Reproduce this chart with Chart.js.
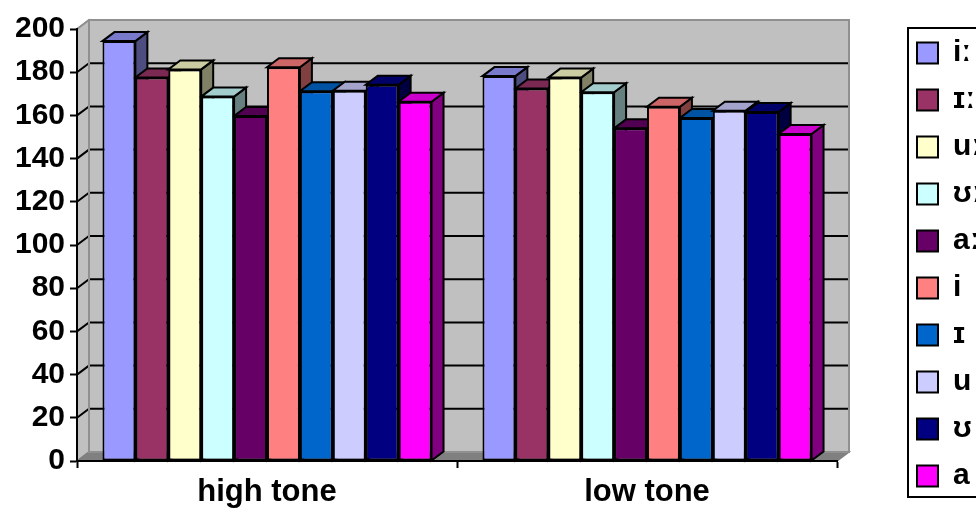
<!DOCTYPE html>
<html>
<head>
<meta charset="utf-8">
<script src="https://cdn.jsdelivr.net/npm/chart.js@4"></script>
<style>
html, body { margin: 0; padding: 0; background: #fff; overflow: hidden; }
#wrap { width: 980px; height: 510px; }
</style>
</head>
<body>
<div id="wrap"><canvas id="tones" width="980" height="510"></canvas></div>
<script>
const tones = ['high tone', 'low tone'];
const vowels = ['iː', 'ɪː', 'uː', 'ʊː', 'aː', 'i', 'ɪ', 'u', 'ʊ', 'a'];
const highTone = [194.4, 177.6, 181.3, 168.7, 159.7, 182.3, 171.2, 171.4, 174.2, 166.3];
const lowTone = [178.2, 172.5, 177.5, 170.7, 154.0, 164.0, 158.8, 162.2, 161.6, 151.4];
const yMin = 0, yMax = 200, yStep = 20;
const vowelColors = ['#9999FF', '#993366', '#FFFFCC', '#CCFFFF', '#660066',
	'#FF8080', '#0066CC', '#CCCCFF', '#000080', '#FF00FF'];

const FONT = 'Arial, "Liberation Sans", "DejaVu Sans", sans-serif';
// depth offset of the fake 3d box
const DX = 12, DY = -9;

function shade(hex, f) {
	const n = parseInt(hex.slice(1), 16);
	const r = Math.round(((n >> 16) & 255) * f);
	const g = Math.round(((n >> 8) & 255) * f);
	const b = Math.round((n & 255) * f);
	return 'rgb(' + r + ',' + g + ',' + b + ')';
}

function poly(ctx, pts, fill, stroke, lw) {
	ctx.beginPath();
	ctx.moveTo(pts[0][0], pts[0][1]);
	for (let i = 1; i < pts.length; i++) ctx.lineTo(pts[i][0], pts[i][1]);
	ctx.closePath();
	if (fill) { ctx.fillStyle = fill; ctx.fill(); }
	if (stroke) { ctx.strokeStyle = stroke; ctx.lineWidth = lw || 2; ctx.stroke(); }
}

// walls, floor, gridlines, and the top / side faces of every bar
const box3d = {
	id: 'box3d',
	beforeDraw(chart) {
		const ctx = chart.ctx;
		const a = chart.chartArea;
		const y = chart.scales.y;
		ctx.save();
		ctx.lineJoin = 'miter';

		poly(ctx, [[a.left + DX, a.top + DY], [a.right + DX, a.top + DY],
			[a.right + DX, a.bottom + DY], [a.left + DX, a.bottom + DY]], '#c0c0c0');
		poly(ctx, [[a.left, a.top], [a.left + DX, a.top + DY],
			[a.left + DX, a.bottom + DY], [a.left, a.bottom]], '#c0c0c0', '#808080', 1.5);
		poly(ctx, [[a.left, a.bottom], [a.left + DX, a.bottom + DY],
			[a.right + DX, a.bottom + DY], [a.right, a.bottom]], '#808080', '#808080', 1.5);

		y.ticks.forEach(t => {
			if (t.value === yMin) return;
			const py = y.getPixelForValue(t.value);
			ctx.beginPath();
			ctx.moveTo(a.left, py);
			ctx.lineTo(a.left + DX, py + DY);
			ctx.lineTo(a.right + DX, py + DY);
			ctx.strokeStyle = t.value === yMax ? '#909090' : '#000';
			ctx.lineWidth = 2;
			ctx.stroke();
		});
		ctx.strokeStyle = '#909090';
		ctx.lineWidth = 2;
		ctx.strokeRect(a.left + DX, a.top + DY, a.width, a.height);

		const bars = [];
		chart.data.datasets.forEach((ds, di) => {
			chart.getDatasetMeta(di).data.forEach(el => {
				const p = el.getProps(['x', 'y', 'base', 'width'], true);
				bars.push({ p, color: ds.backgroundColor });
			});
		});
		bars.forEach(({ p, color }) => {
			const r = p.x + p.width / 2;
			poly(ctx, [[r, p.y], [r + DX, p.y + DY], [r + DX, p.base + DY], [r, p.base]],
				shade(color, 0.5), '#000', 2);
		});
		bars.forEach(({ p, color }) => {
			const l = p.x - p.width / 2, r = p.x + p.width / 2;
			poly(ctx, [[l, p.y], [r, p.y], [r + DX, p.y + DY], [l + DX, p.y + DY]],
				shade(color, 0.8), '#000', 2);
		});
		ctx.restore();
	},
	afterDraw(chart) {
		const lg = chart.legend;
		const ctx = chart.ctx;
		ctx.save();
		ctx.strokeStyle = '#000';
		ctx.lineWidth = 2;
		ctx.strokeRect(lg.left + 8, lg.top + 9, lg.width + 20, lg.height - 22);
		ctx.restore();
	}
};

const datasets = vowels.map((v, i) => ({
	label: v,
	data: [highTone[i], lowTone[i]],
	backgroundColor: vowelColors[i],
	borderColor: '#000',
	borderWidth: 2,
	borderSkipped: false,
	barPercentage: 1.0,
	categoryPercentage: 0.866,
}));

const ctx = document.getElementById('tones').getContext('2d');
const toneChart = new Chart(ctx, {
	type: 'bar',
	data: {
		labels: tones,
		datasets: datasets,
	},
	options: {
		responsive: false,
		animation: false,
		devicePixelRatio: 1,
		layout: { padding: { top: 19, left: 0, right: 0, bottom: 0 } },
		plugins: {
			legend: {
				position: 'right',
				maxWidth: 80,
				labels: {
					color: '#000',
					font: { family: FONT, size: 30, weight: 'bold' },
					boxWidth: 21,
					boxHeight: 21,
					padding: 17,
				},
			},
			tooltip: { enabled: false },
		},
		scales: {
			x: {
				grid: { drawOnChartArea: false, tickLength: 7, tickColor: '#000', tickWidth: 2 },
				border: { color: '#000', width: 2 },
				ticks: { color: '#000', padding: 6, font: { family: FONT, size: 31, weight: 'bold' } },
				afterFit: s => { s.height = 49; s.paddingLeft = 0; s.paddingRight = 0; },
			},
			xTop: {
				type: 'category',
				position: 'top',
				labels: tones,
				grid: { display: false },
				border: { display: false },
				ticks: { display: false },
				afterFit: s => { s.height = 10; },
			},
			y: {
				min: yMin,
				max: yMax,
				ticks: { stepSize: yStep, color: '#000', padding: 5, font: { family: FONT, size: 30, weight: 'bold' } },
				grid: { drawOnChartArea: false, tickLength: 7, tickColor: '#000', tickWidth: 2 },
				border: { color: '#000', width: 2 },
				afterFit: s => { s.width = 77; s.paddingTop = 0; s.paddingBottom = 0; },
			},
			yRight: {
				type: 'linear',
				position: 'right',
				grid: { display: false },
				border: { display: false },
				ticks: { display: false },
				afterFit: s => { s.width = 63; },
			},
		},
	},
	plugins: [box3d],
});
</script>
</body>
</html>
